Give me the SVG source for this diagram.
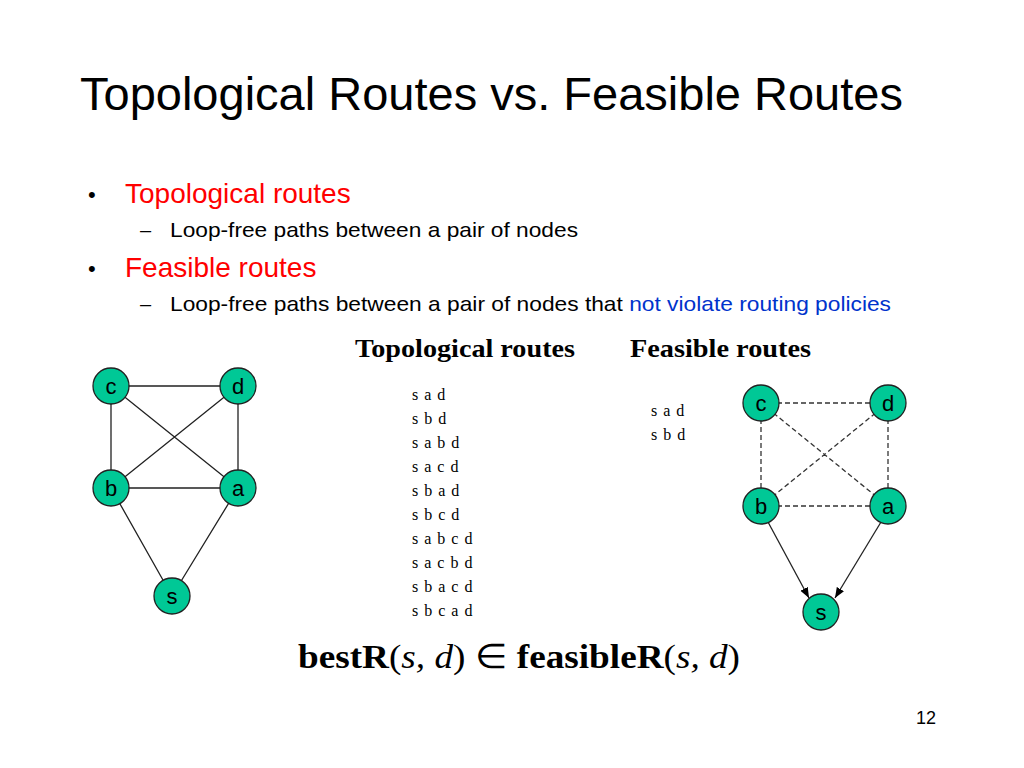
<svg xmlns="http://www.w3.org/2000/svg" width="1024" height="768" viewBox="0 0 1024 768">
<defs>
<style>
.n{fill:#00C896;stroke:#222;stroke-width:1.3}
.nl{font-family:"Liberation Sans",Arial,sans-serif;font-size:22px;text-anchor:middle;fill:#000}
.e{stroke:#222;stroke-width:1.3;fill:none}
.d{stroke:#333;stroke-width:1.3;stroke-dasharray:5,3;fill:none}
.s{font-family:"Liberation Sans",Arial,sans-serif}
.r{font-family:"Liberation Serif","Times New Roman",serif;font-size:16px}
</style>
<marker id="ar" viewBox="0 0 10 10" refX="10" refY="5" markerWidth="8" markerHeight="8" orient="auto"><path d="M0,1 L10,5 L0,9 z" fill="#000"/></marker>
</defs>
<rect width="1024" height="768" fill="#fff"/>
<text class="s" x="80" y="110" font-size="47">Topological Routes vs. Feasible Routes</text>
<text class="s" x="88" y="202" font-size="22">•</text>
<text class="s" x="125" y="203" font-size="28" fill="#ff0000">Topological routes</text>
<text class="s" x="140" y="237" font-size="20">–</text>
<text class="s" x="170" y="237" font-size="21" textLength="408" lengthAdjust="spacingAndGlyphs">Loop-free paths between a pair of nodes</text>
<text class="s" x="88" y="276" font-size="22">•</text>
<text class="s" x="125" y="277" font-size="28" fill="#ff0000">Feasible routes</text>
<text class="s" x="140" y="311" font-size="20">–</text>
<text class="s" x="170" y="311" font-size="21" textLength="721" lengthAdjust="spacingAndGlyphs">Loop-free paths between a pair of nodes that <tspan fill="#0033cc">not violate routing policies</tspan></text>
<text x="355" y="357" font-family="Liberation Serif,serif" font-size="25" font-weight="bold" textLength="220" lengthAdjust="spacingAndGlyphs">Topological routes</text>
<text x="630" y="357" font-family="Liberation Serif,serif" font-size="25" font-weight="bold" textLength="181" lengthAdjust="spacingAndGlyphs">Feasible routes</text>
<g class="r" letter-spacing="1">
<text x="412" y="400">s a d</text><text x="412" y="424">s b d</text><text x="412" y="448">s a b d</text><text x="412" y="472">s a c d</text><text x="412" y="496">s b a d</text><text x="412" y="520">s b c d</text><text x="412" y="544">s a b c d</text><text x="412" y="568">s a c b d</text><text x="412" y="592">s b a c d</text><text x="412" y="616">s b c a d</text>
<text x="651" y="416">s a d</text><text x="651" y="440">s b d</text>
</g>
<g id="connectors">
<path class="e" d="M111,386H238M111,386V488M238,386V488M111,488H238M111,386L238,488M238,386L111,488M111,488L172,596M238,488L172,596"/>
<path class="d" d="M761,403H888M761,403V506M888,403V506M761,506H888M761,403L888,506M888,403L761,506"/>
<line class="e" x1="768" y1="522" x2="809" y2="598" marker-end="url(#ar)"/>
<line class="e" x1="881" y1="522" x2="835" y2="598" marker-end="url(#ar)"/>
</g>
<g id="L-c"><circle class="n" cx="111" cy="386" r="18"/><text class="nl" x="111" y="394">c</text></g>
<g id="L-d"><circle class="n" cx="238" cy="386" r="18"/><text class="nl" x="238" y="394">d</text></g>
<g id="L-b"><circle class="n" cx="111" cy="488" r="18"/><text class="nl" x="111" y="496">b</text></g>
<g id="L-a"><circle class="n" cx="238" cy="488" r="18"/><text class="nl" x="238" y="496">a</text></g>
<g id="L-s"><circle class="n" cx="172" cy="596" r="18"/><text class="nl" x="172" y="604">s</text></g>
<g id="R-c"><circle class="n" cx="761" cy="403" r="18"/><text class="nl" x="761" y="411">c</text></g>
<g id="R-d"><circle class="n" cx="888" cy="403" r="18"/><text class="nl" x="888" y="411">d</text></g>
<g id="R-b"><circle class="n" cx="761" cy="506" r="18"/><text class="nl" x="761" y="514">b</text></g>
<g id="R-a"><circle class="n" cx="888" cy="506" r="18"/><text class="nl" x="888" y="514">a</text></g>
<g id="R-s"><circle class="n" cx="821" cy="612" r="18"/><text class="nl" x="821" y="620">s</text></g>
<text x="298" y="668" font-family="Liberation Serif,serif" font-size="34" textLength="442" lengthAdjust="spacingAndGlyphs"><tspan font-weight="bold">bestR</tspan>(<tspan font-style="italic">s, d</tspan>) ∈ <tspan font-weight="bold">feasibleR</tspan>(<tspan font-style="italic">s, d</tspan>)</text>
<text class="s" x="936" y="724" font-size="18" text-anchor="end">12</text>
</svg>
